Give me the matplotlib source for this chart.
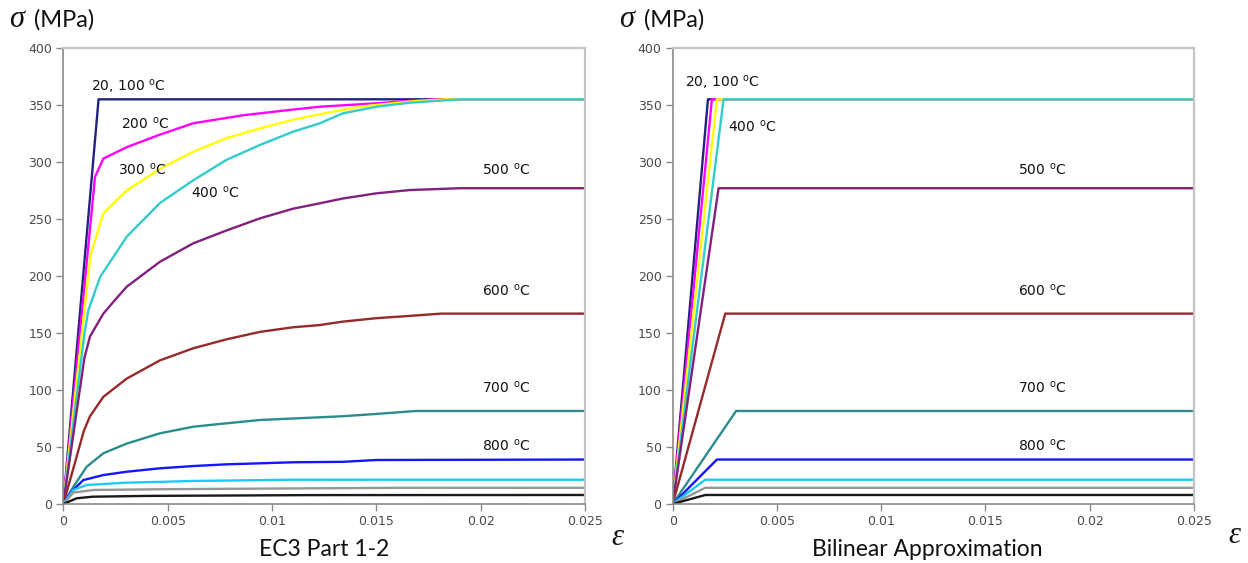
import matplotlib
matplotlib.use("Agg")
import matplotlib.pyplot as plt

W, H = 1248, 563

# EC3 Part 1-2 stress-strain curves (strain, stress in MPa)
ec3_strain_100 = [0, 0.00169, 0.025]
ec3_stress_100 = [0, 355, 355]
ec3_strain_200 = [0, 0.00152, 0.00192, 0.00304, 0.00463, 0.00623, 0.00862,
                  0.0110, 0.0123, 0.0150, 0.0165, 0.0179, 0.025]
ec3_stress_200 = [0, 287, 303, 313, 324, 334, 341, 346, 348.5, 351.5, 353.5,
                  355, 355]
ec3_strain_300 = [0, 0.0013, 0.00192, 0.00304, 0.00463, 0.00623, 0.00783,
                  0.00943, 0.0110, 0.0123, 0.0142, 0.0166, 0.0183, 0.025]
ec3_stress_300 = [0, 218, 255, 275, 294, 309, 321, 329.5, 337, 342, 348.5,
                  353, 355, 355]
ec3_strain_400 = [0, 0.00101, 0.0012, 0.00176, 0.00304, 0.00463, 0.00623,
                  0.00783, 0.00943, 0.0110, 0.0123, 0.0134, 0.0150, 0.0166,
                  0.0190, 0.025]
ec3_stress_400 = [0, 149, 170, 199, 234.5, 264, 284, 302, 315, 326.5, 334,
                  342.7, 348.5, 352, 355, 355]
ec3_strain_500 = [0, 0.00101, 0.00128, 0.00192, 0.00248, 0.00304, 0.00463,
                  0.00623, 0.00783, 0.00943, 0.0110, 0.0123, 0.0134, 0.0150,
                  0.0166, 0.0190, 0.025]
ec3_stress_500 = [0, 128, 147, 167, 179, 190.6, 212.5, 228.7, 240, 250.6,
                  259, 263.8, 268, 272.5, 275.4, 277, 277]
ec3_strain_600 = [0, 0.00064, 0.00098, 0.00128, 0.00192, 0.00304, 0.00463,
                  0.00623, 0.00783, 0.00943, 0.0110, 0.0123, 0.0134, 0.0150,
                  0.0166, 0.0181, 0.025]
ec3_stress_600 = [0, 41.5, 64, 77, 94, 110, 126, 136.6, 144.5, 151, 155, 157,
                  160, 163, 165, 167, 167]
ec3_strain_700 = [0, 0.00048, 0.00112, 0.00192, 0.00304, 0.00463, 0.00623,
                  0.00783, 0.00943, 0.0110, 0.0134, 0.0150, 0.0169, 0.025]
ec3_stress_700 = [0, 15, 32.7, 44.5, 53, 62, 67.8, 70.8, 73.7, 75, 77, 79,
                  81.6, 81.6]
ec3_strain_800 = [0, 0.00032, 0.00096, 0.00192, 0.00304, 0.00463, 0.00623,
                  0.00783, 0.00943, 0.0110, 0.0134, 0.0150, 0.025]
ec3_stress_800 = [0, 9.6, 21, 25.4, 28.3, 31.3, 33.3, 34.8, 35.7, 36.6, 37,
                  38.6, 39]
ec3_strain_900 = [0, 0.00048, 0.00112, 0.00304, 0.00623, 0.0110, 0.0150, 0.025]
ec3_stress_900 = [0, 12.3, 16.7, 18.7, 20.2, 21.3, 21.3, 21.3]
ec3_strain_1000 = [0, 0.00048, 0.00144, 0.005, 0.0160, 0.025]
ec3_stress_1000 = [0, 10, 12.3, 13.0, 14.2, 14.2]
ec3_strain_1100 = [0, 0.00064, 0.0014, 0.004, 0.012, 0.025]
ec3_stress_1100 = [0, 5, 6.4, 7.1, 7.8, 7.9]

# bilinear approximation: knee strain and yield stress per curve
bilinear_knee_strain = [0.00169, 0.00188, 0.00212, 0.00244, 0.0022, 0.00252,
                        0.00304, 0.00212, 0.00156, 0.00156, 0.00156]
bilinear_yield_stress = [355, 355, 355, 355, 277, 167, 81.6, 39, 21.3, 14.2, 7.9]
strain_max = 0.025

curve_colors = ["#23237f", "#ff00ff", "#ffff00", "#33cccc", "#82207f",
                "#962a2a", "#2a8c8c", "#1414ff", "#1ec8ff", "#969696", "#1a1a1a"]

ec3_curves = [
    (ec3_strain_100, ec3_stress_100), (ec3_strain_200, ec3_stress_200),
    (ec3_strain_300, ec3_stress_300), (ec3_strain_400, ec3_stress_400),
    (ec3_strain_500, ec3_stress_500), (ec3_strain_600, ec3_stress_600),
    (ec3_strain_700, ec3_stress_700), (ec3_strain_800, ec3_stress_800),
    (ec3_strain_900, ec3_stress_900), (ec3_strain_1000, ec3_stress_1000),
    (ec3_strain_1100, ec3_stress_1100),
]

x_ticks = [0, 0.005, 0.01, 0.015, 0.02, 0.025]
x_tick_labels = ["0", "0.005", "0.01", "0.015", "0.02", "0.025"]
y_ticks = [0, 50, 100, 150, 200, 250, 300, 350, 400]

deg = r"$^{\mathrm{o}}$C"
left_labels = [("20, 100 " + deg, 0.0031, 367), ("200 " + deg, 0.0039, 334),
               ("300 " + deg, 0.0038, 293), ("400 " + deg, 0.0073, 273),
               ("500 " + deg, 0.02124, 293), ("600 " + deg, 0.02124, 187),
               ("700 " + deg, 0.02124, 102), ("800 " + deg, 0.02124, 51)]
right_labels = [("20, 100 " + deg, 0.00238, 370), ("400 " + deg, 0.00383, 331),
                ("500 " + deg, 0.0177, 293), ("600 " + deg, 0.0177, 187),
                ("700 " + deg, 0.0177, 102), ("800 " + deg, 0.0177, 51)]

plt.rcParams["mathtext.default"] = "regular"


def style_axes(ax):
    ax.set_xlim(0, strain_max)
    ax.set_ylim(0, 400)
    ax.set_xticks(x_ticks)
    ax.set_xticklabels(x_tick_labels)
    ax.set_yticks(y_ticks)
    ax.tick_params(direction="out", length=5, width=1, color="#8a8a8a",
                   labelcolor="#4a4a4a", labelsize=9, pad=3)
    for side in ["left", "bottom"]:
        ax.spines[side].set_color("#8a8a8a")
        ax.spines[side].set_linewidth(1.2)
    for side in ["top", "right"]:
        ax.spines[side].set_color("#c4c4c4")
        ax.spines[side].set_linewidth(1.6)
    for lbl in ax.get_xticklabels() + ax.get_yticklabels():
        lbl.set_family("DejaVu Sans")


fig = plt.figure(figsize=(W / 100, H / 100), dpi=100)
ax1 = fig.add_axes([63.3 / W, 1 - 504 / H, (585 - 63.3) / W, (504 - 48) / H])
ax2 = fig.add_axes([672.7 / W, 1 - 504 / H, (1194 - 672.7) / W, (504 - 48) / H])

for (strain, stress), c in zip(ec3_curves, curve_colors):
    ax1.plot(strain, stress, color=c, lw=1.7, solid_joinstyle="round")

for knee, fy, c in zip(bilinear_knee_strain, bilinear_yield_stress, curve_colors):
    ax2.plot([0, knee, strain_max], [0, fy, fy], color=c, lw=1.7)

for ax, labels in [(ax1, left_labels), (ax2, right_labels)]:
    style_axes(ax)
    for text, x, y in labels:
        ax.text(x, y, text, ha="center", va="center", fontsize=10,
                family="DejaVu Sans", color="#111111")

# axis titles
for x0 in [9, 619]:
    fig.text(x0 / W, 1 - 27 / H, "\u03c3", fontsize=22,
             family="Liberation Serif", style="italic", va="baseline",
             color="#111111")
    fig.text((x0 + 25) / W, 1 - 27 / H, "(MPa)", fontsize=17,
             family="Lato", va="baseline", color="#111111")
fig.text(324 / W, 1 - 556 / H, "EC3 Part 1-2", fontsize=16.5, family="Lato",
         ha="center", va="baseline", color="#111111")
fig.text(927 / W, 1 - 556 / H, "Bilinear Approximation", fontsize=16.5,
         family="Lato", ha="center", va="baseline", color="#111111")
fig.text(617 / W, 1 - 545 / H, "\u03b5", fontsize=22, family="Liberation Serif",
         style="italic", ha="center", va="baseline", color="#111111")
fig.text(1234 / W, 1 - 543 / H, "\u03b5", fontsize=22, family="Liberation Serif",
         style="italic", ha="center", va="baseline", color="#111111")

fig.savefig("out.png", dpi=100)
